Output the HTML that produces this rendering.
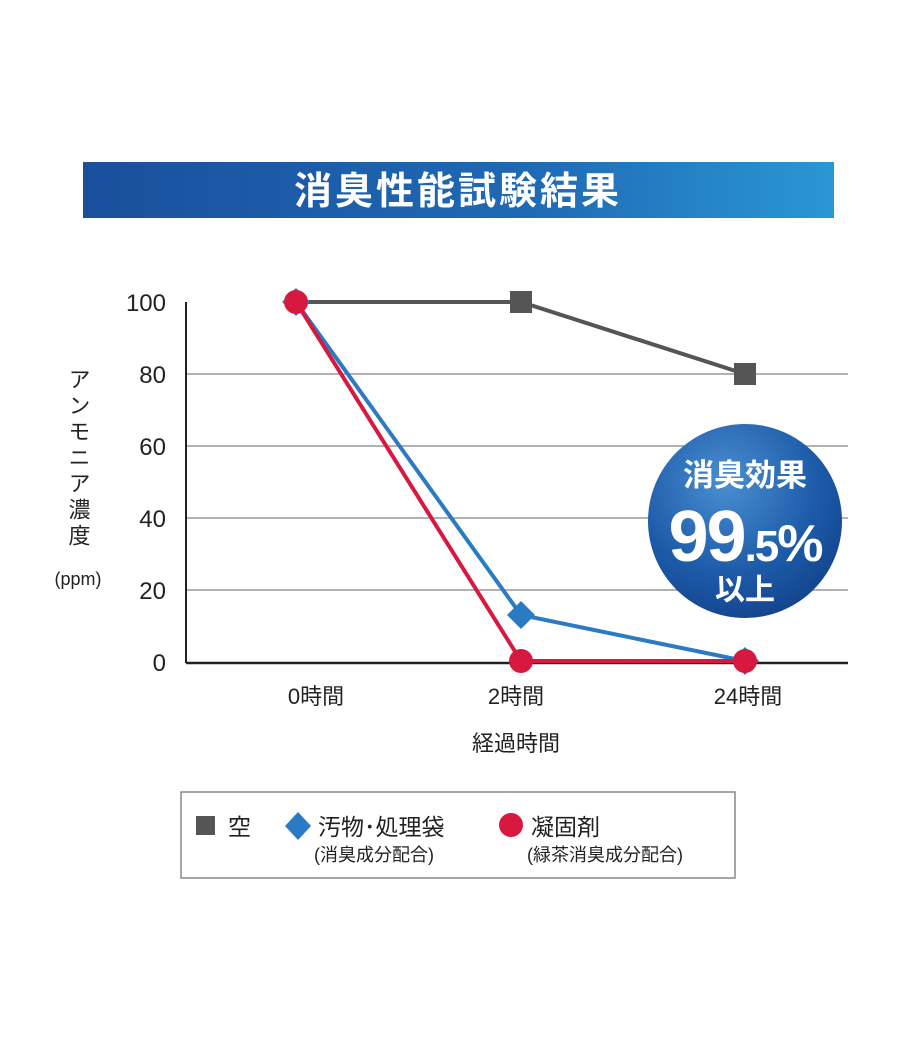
<!DOCTYPE html>
<html><head><meta charset="utf-8"><style>
body{margin:0;background:#fff;}
svg text{font-family:"Liberation Sans","Noto Sans CJK JP",sans-serif;}
</style></head><body>
<svg width="920" height="1040" viewBox="0 0 920 1040" xmlns="http://www.w3.org/2000/svg">
<defs>
<linearGradient id="tb" x1="0" x2="1"><stop offset="0" stop-color="#1a4f9c"/><stop offset="0.6" stop-color="#1f6ab5"/><stop offset="1" stop-color="#2a97d3"/></linearGradient>
<radialGradient id="cg" cx="0.4" cy="0.3" r="0.8"><stop offset="0" stop-color="#4a8fd0"/><stop offset="0.6" stop-color="#1c5aa8"/><stop offset="1" stop-color="#123f86"/></radialGradient>
</defs>
<rect x="83" y="162" width="751" height="56" fill="url(#tb)"/>
<text x="458" y="204" font-size="38" fill="#fff" text-anchor="middle" font-weight="bold" letter-spacing="3">消臭性能試験結果</text>
<g stroke="#999" stroke-width="1.5">
<line x1="186" y1="374" x2="848" y2="374"/><line x1="186" y1="446" x2="848" y2="446"/>
<line x1="186" y1="518" x2="848" y2="518"/><line x1="186" y1="590" x2="848" y2="590"/>
</g>
<line x1="186" y1="302" x2="186" y2="663" stroke="#222" stroke-width="2"/>
<line x1="186" y1="663" x2="848" y2="663" stroke="#222" stroke-width="2.5"/>
<g font-size="24" fill="#222" text-anchor="end">
<text x="166" y="311">100</text><text x="166" y="383">80</text><text x="166" y="455">60</text>
<text x="166" y="527">40</text><text x="166" y="599">20</text><text x="166" y="671">0</text>
</g>
<text font-size="22" fill="#222" x="78" y="368" style="writing-mode:vertical-rl" letter-spacing="4">アンモニア濃度</text>
<text x="78" y="585" font-size="18" fill="#222" text-anchor="middle">(ppm)</text>
<g font-size="22" fill="#222" text-anchor="middle">
<text x="316" y="704">0時間</text><text x="516" y="704">2時間</text><text x="748" y="704">24時間</text>
<text x="516" y="751">経過時間</text>
</g>
<circle cx="745" cy="521" r="97" fill="url(#cg)"/>
<text x="745" y="486" font-size="31" fill="#fff" text-anchor="middle" font-weight="bold">消臭効果</text>
<text x="745" y="561" font-size="72" fill="#fff" text-anchor="middle" font-weight="bold" letter-spacing="-2">99<tspan font-size="44">.5</tspan><tspan font-size="52">%</tspan></text>
<text x="745" y="600" font-size="30" fill="#fff" text-anchor="middle" font-weight="bold">以上</text>
<polyline points="296,302 521,302 745,374" fill="none" stroke="#555" stroke-width="4"/>
<rect x="510" y="291" width="22" height="22" fill="#555"/>
<rect x="734" y="363" width="22" height="22" fill="#555"/>
<polyline points="296,302 521,615 745,661" fill="none" stroke="#2a7bc4" stroke-width="4"/>
<polygon points="521,601 535,615 521,629 507,615" fill="#2a7bc4"/>
<polygon points="745,647 759,661 745,675 731,661" fill="#2a7bc4"/>
<polyline points="296,302 521,661 745,661" fill="none" stroke="#d7193f" stroke-width="4"/>
<polygon points="296,288 310,302 296,316 282,302" fill="#2a7bc4"/>
<circle cx="296" cy="302" r="12" fill="#d7193f"/>
<circle cx="521" cy="661" r="12" fill="#d7193f"/>
<circle cx="745" cy="661" r="12" fill="#d7193f"/>
<rect x="181" y="792" width="554" height="86" fill="#fff" stroke="#888" stroke-width="1.5"/>
<rect x="196" y="816" width="19" height="19" fill="#555"/>
<text x="228" y="835" font-size="23" fill="#222">空</text>
<polygon points="298,812 311,826 298,840 285,826" fill="#2a7bc4"/>
<text x="318" y="835" font-size="23" fill="#222">汚物･処理袋</text>
<text x="314" y="861" font-size="18" fill="#222">(消臭成分配合)</text>
<circle cx="511" cy="825" r="12" fill="#d7193f"/>
<text x="531" y="835" font-size="23" fill="#222">凝固剤</text>
<text x="527" y="861" font-size="18" fill="#222">(緑茶消臭成分配合)</text>
</svg>
</body></html>
